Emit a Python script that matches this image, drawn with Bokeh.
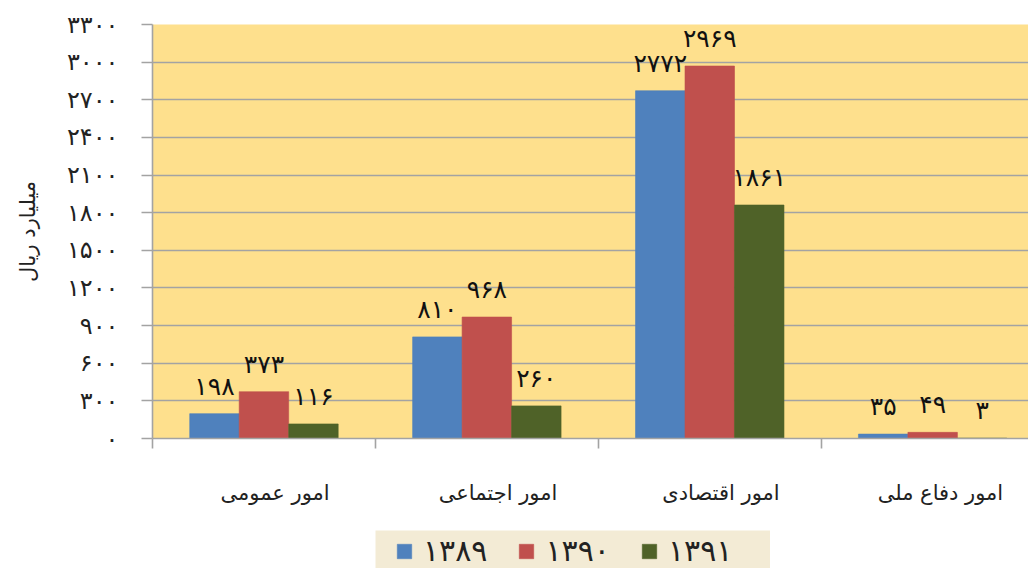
from bokeh.plotting import figure
from bokeh.models import (ColumnDataSource, Range1d, FixedTicker, Legend, LegendItem, Spacer)
from bokeh.layouts import column, row
from bokeh.transform import dodge
from bokeh.core.properties import value
from bokeh.embed import file_html
from bokeh.resources import INLINE

# ---------------- data ----------------
categories = ["امور عمومی", "امور اجتماعی", "امور اقتصادی", "امور دفاع  ملی"]
years = ["۱۳۸۹", "۱۳۹۰", "۱۳۹۱"]
v1389 = [198, 810, 2772, 35]
v1390 = [373, 968, 2969, 49]
v1391 = [116, 260, 1861, 3]
y_ticks = [0, 300, 600, 900, 1200, 1500, 1800, 2100, 2400, 2700, 3000, 3300]
y_axis_title = "میلیارد ریال"

colors = ["#4F81BD", "#C0504D", "#4F6228"]
FONT = "DejaVu Sans"
GRID = "#A3A3A3"

FA_DIGITS = str.maketrans("0123456789", "۰۱۲۳۴۵۶۷۸۹")


def fa(n):
    return str(n).translate(FA_DIGITS)


xs = [i + 0.5 for i in range(len(categories))]
src = ColumnDataSource(dict(
    x=xs,
    v0=v1389, v1=v1390, v2=v1391,
    t0=[fa(v) for v in v1389],
    t1=[fa(v) for v in v1390],
    t2=[fa(v) for v in v1391],
))

p = figure(width=1028, height=530, output_backend="svg", toolbar_location=None,
           x_range=Range1d(0, 3.93), y_range=Range1d(0, 3300),
           min_border_left=152, min_border_top=24, min_border_right=0,
           min_border_bottom=92)
p.background_fill_color = "#FEE08D"
p.border_fill_color = "white"
p.outline_line_color = None

bw = 0.222
offsets = [-bw, 0.0, bw]
for k in range(3):
    p.vbar(x=dodge("x", offsets[k]), top=f"v{k}", width=bw, source=src,
           fill_color=colors[k], line_color=colors[k], line_alpha=0.6)
    p.text(x=dodge("x", offsets[k]), y=f"v{k}", text=f"t{k}", source=src,
           text_align="center", text_baseline="bottom", y_offset=-13,
           text_font=value(FONT), text_font_size="25px", text_color="#111111")

# grid
p.xgrid.grid_line_color = None
p.ygrid.grid_line_color = GRID
p.ygrid.grid_line_width = 1.6
p.ygrid.ticker = FixedTicker(ticks=y_ticks)

# y axis
ya = p.yaxis[0]
ya.ticker = FixedTicker(ticks=y_ticks, minor_ticks=[])
ya.major_label_overrides = {t: fa(t) for t in y_ticks}
ya.axis_line_color = GRID
ya.axis_line_width = 1.6
ya.major_tick_line_color = GRID
ya.major_tick_line_width = 1.6
ya.major_tick_out = 11
ya.major_tick_in = 0
ya.minor_tick_line_color = None
ya.major_label_standoff = 23
ya.major_label_text_font = FONT
ya.major_label_text_font_size = "24px"
ya.major_label_text_color = "#222222"
ya.axis_label = y_axis_title
ya.axis_label_text_font = FONT
ya.axis_label_text_font_size = "21px"
ya.axis_label_text_font_style = "normal"
ya.axis_label_text_color = "#222222"
ya.axis_label_standoff = 24

# x axis (labels sit slightly right of centre, as in the original)
label_pos = [x + 0.05 for x in xs]
xa = p.xaxis[0]
xa.ticker = FixedTicker(ticks=label_pos, minor_ticks=[0, 1, 2, 3, 4])
xa.major_label_overrides = {x: c for x, c in zip(label_pos, categories)}
xa.axis_line_color = GRID
xa.axis_line_width = 1.6
xa.major_tick_line_color = None
xa.minor_tick_line_color = GRID
xa.minor_tick_line_width = 1.6
xa.minor_tick_out = 10
xa.minor_tick_in = 0
xa.major_label_standoff = 32
xa.major_label_text_font = FONT
xa.major_label_text_font_size = "21px"
xa.major_label_text_color = "#222222"

# ---------------- legend strip ----------------
leg = figure(width=395, height=38, output_backend="svg", toolbar_location=None,
             x_range=Range1d(0, 1), y_range=Range1d(0, 1),
             min_border=0, x_axis_type=None, y_axis_type=None)
leg.background_fill_color = "#F3EBD5"
leg.border_fill_color = "#F3EBD5"
leg.outline_line_color = None
leg.xgrid.grid_line_color = None
leg.ygrid.grid_line_color = None
items = []
for k in range(3):
    # placeholder renderer (NaN point: draws nothing) that carries the swatch style
    r = leg.vbar(x=[float("nan")], top=[float("nan")], width=0.1,
                 fill_color=colors[k], line_color=colors[k], line_alpha=0.6)
    items.append(LegendItem(label=years[k], renderers=[r]))
legend = Legend(items=items, orientation="horizontal", location=(20, 0),
                background_fill_alpha=0.0, border_line_color=None,
                label_text_font=FONT, label_text_font_size="30px",
                label_text_color="#222222",
                glyph_width=18, glyph_height=18, label_standoff=10,
                spacing=30, padding=6, margin=0)
leg.add_layout(legend, "center")

layout = column(p, row(Spacer(width=375, height=38), leg), spacing=0)

open("out.html", "w").write(file_html(layout, INLINE))
